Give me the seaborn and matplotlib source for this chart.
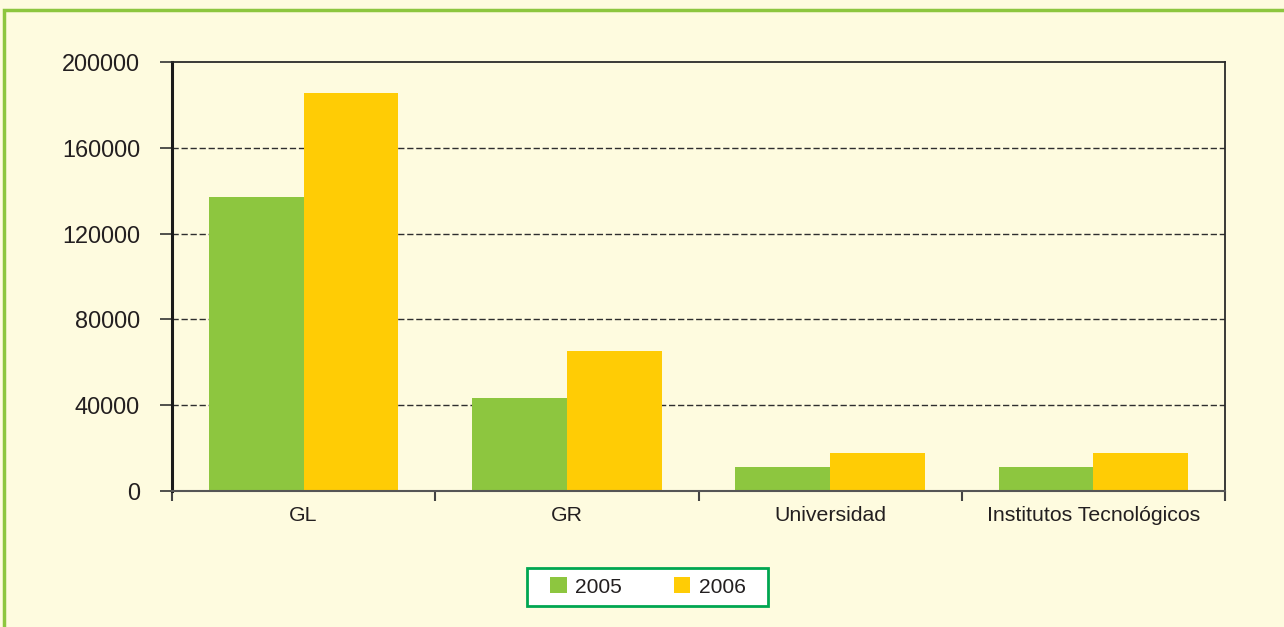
import matplotlib
matplotlib.use('Agg')
import matplotlib.pyplot as plt
import seaborn as sns
import pandas as pd
from matplotlib.patches import Patch, Rectangle
from matplotlib.ticker import FixedLocator

categories = ["GL", "GR", "Universidad", "Institutos Tecnológicos"]
years = ["2005", "2006"]
values_2005 = [137000, 43400, 11200, 11200]
values_2006 = [185500, 65300, 17700, 17700]
y_ticks = [0, 40000, 80000, 120000, 160000, 200000]

df = pd.DataFrame({
    "categoria": categories * 2,
    "anio": [years[0]] * len(categories) + [years[1]] * len(categories),
    "valor": values_2005 + values_2006,
})

BG = "#FEFBDF"
GREEN = "#8DC63F"
YELLOW = "#FFCC05"
TXT = "#231f20"

sns.set_theme(style="white")
plt.rcParams['font.family'] = ['Liberation Sans', 'DejaVu Sans']

W, H = 1284, 627
fig = plt.figure(figsize=(W / 100, H / 100), dpi=100, facecolor=BG)
ax = fig.add_axes([172/W, 1-491/H, (1225-172)/W, (491-62)/H])
ax.set_facecolor(BG)

sns.barplot(data=df, x="categoria", y="valor", hue="anio", order=categories,
            hue_order=years, palette=[GREEN, YELLOW], width=0.72, gap=0,
            saturation=1, ax=ax, legend=False, edgecolor="none", linewidth=0)

ax.set_xlim(-0.5, len(categories) - 0.5)
ax.set_ylim(0, 200000)
ax.set_yticks(y_ticks)
ax.set_yticklabels([str(v) for v in y_ticks])
ax.set_xlabel("")
ax.set_ylabel("")

for v in y_ticks[1:-1]:
    ax.axhline(v, color="#2e2e2e", lw=1.0, ls=(0, (4.5, 2)), zorder=0)

ax.tick_params(axis='y', which='major', direction='out', length=9, width=1.2,
               color="#333333", labelsize=16.9, labelcolor=TXT, pad=14, left=True)
ax.tick_params(axis='x', which='major', length=0, labelsize=15.3,
               labelcolor=TXT, pad=11)
ax.xaxis.set_minor_locator(FixedLocator([i - 0.5 for i in range(len(categories) + 1)]))
ax.tick_params(axis='x', which='minor', direction='out', length=7, width=1.5,
               color="#444444", bottom=True)

for s in ["top", "right"]:
    ax.spines[s].set_visible(True)
    ax.spines[s].set_color("#2a2a2a")
    ax.spines[s].set_linewidth(1.3)
ax.spines["left"].set_color("#1a1a1a")
ax.spines["left"].set_linewidth(2.2)
ax.spines["bottom"].set_color("#555555")
ax.spines["bottom"].set_linewidth(1.5)

# outer green border
fig.add_artist(Rectangle((4/W, -0.1), 1.2, (H-10)/H + 0.1,
                         transform=fig.transFigure, fill=False,
                         edgecolor=GREEN, lw=2.5))

# legend box
fig.add_artist(Rectangle((527/W, 1-606/H), (768-527)/W, (606-568)/H,
                         transform=fig.transFigure, facecolor="white",
                         edgecolor="#00A651", lw=2, zorder=2))

handles = [Patch(facecolor=GREEN, edgecolor="none", label=years[0]),
           Patch(facecolor=YELLOW, edgecolor="none", label=years[1])]
leg = fig.legend(handles=handles, loc="center", bbox_to_anchor=(648/W, 1-587/H),
                 ncol=2, frameon=False, fontsize=15.1,
                 handlelength=0.77, handleheight=0.77, handletextpad=0.4,
                 columnspacing=2.5, borderpad=0, borderaxespad=0)
leg.set_zorder(3)
for t in leg.get_texts():
    t.set_color(TXT)

fig.savefig("out.png", dpi=100, facecolor=BG)
